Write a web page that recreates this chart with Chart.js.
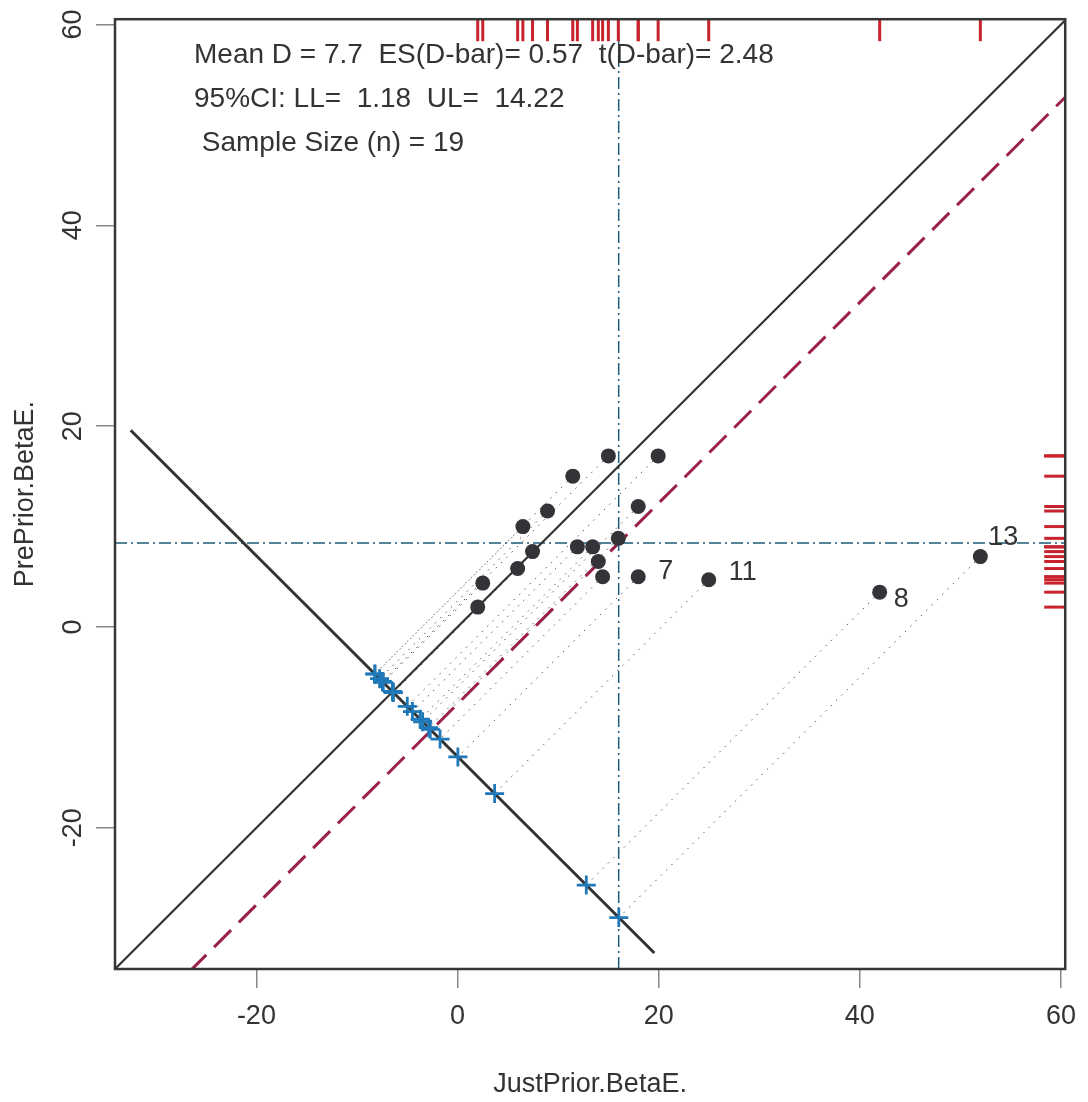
<!DOCTYPE html>
<html>
<head>
<meta charset="utf-8">
<script src="https://cdn.jsdelivr.net/npm/chart.js@4.4.1/dist/chart.umd.min.js"></script>
<style>
  html, body { margin: 0; padding: 0; background: #fff; }
  #wrap { width: 1088px; height: 1102px; }
</style>
</head>
<body>
<div id="wrap"><canvas id="ds-plot"></canvas></div>
<script>
// paired scores, case number = position in the list (1-based)
var justPrior = [15.0, 19.95, 11.46, 8.95, 6.5, 17.97, 17.97, 41.98, 7.46, 11.92, 24.98, 13.44, 51.99, 15.99, 14.0, 5.98, 14.43, 2.51, 2.01];
var prePrior  = [17.04, 17.04, 15.02, 11.55, 10.0, 12.0, 5.0, 3.47, 7.51, 7.98, 4.7, 7.98, 7.01, 8.83, 6.52, 5.82, 5.0, 4.37, 1.98];
var labelledCases = [7, 8, 11, 13];

var xTicks = [-20, 0, 20, 40, 60];
var yTicks = [-20, 0, 20, 40, 60];
var xLim = [-34.06, 60.43];
var yLim = [-34.06, 60.53];

// the anti-diagonal x + y = crossSum, and its x extent
var crossSum = -12.9;
var antiDiagX = [-32.5, 19.57];

var statLines = [
  "Mean D = 7.7  ES(D-bar)= 0.57  t(D-bar)= 2.48",
  "95%CI: LL=  1.18  UL=  14.22",
  " Sample Size (n) = 19"
];

var FONT = "'Liberation Sans', Arial, Helvetica, sans-serif";
var INK = '#333333';

function mean(a) { return a.reduce(function (s, v) { return s + v; }, 0) / a.length; }
var meanX = mean(justPrior), meanY = mean(prePrior), meanD = meanX - meanY;

var pts = justPrior.map(function (x, i) { return { x: x, y: prePrior[i] }; });
var crosses = pts.map(function (p) {
  var t = (p.x + p.y - crossSum) / 2;
  return { x: p.x - t, y: p.y - t };
});

var lineDs = function (data, color, width, dash) {
  return { data: data, showLine: true, borderColor: color, borderWidth: width,
           borderDash: dash || [], pointRadius: 0, fill: false };
};

var datasets = [];
datasets.push({ data: crosses, pointStyle: 'cross', pointRadius: 9.5, borderColor: '#1f78b8',
                borderWidth: 2.8, backgroundColor: '#1f78b8' });
datasets.push({ data: pts, pointStyle: 'circle', pointRadius: 7.5, backgroundColor: '#333338',
                borderColor: '#333338', borderWidth: 0 });
datasets.push(lineDs(antiDiagX.map(function (x) { return { x: x, y: crossSum - x }; }), INK, 3));
datasets.push(lineDs(xLim.map(function (x) { return { x: x, y: x }; }), INK, 2.2));
datasets.push(lineDs(xLim.map(function (x) { return { x: x, y: x - meanD }; }), '#9c2149', 3, [24, 11]));
datasets.push(lineDs(yLim.map(function (y) { return { x: meanX, y: y }; }), '#1d5b78', 1.5, [12, 4, 2, 4]));
datasets.push(lineDs(xLim.map(function (x) { return { x: x, y: meanY }; }), '#1d5b78', 1.5, [12, 4, 2, 4]));
pts.forEach(function (p, i) {
  datasets.push(lineDs([p, crosses[i]], '#555555', 1, [1.5, 6]));
});

// offsets of the case numbers from their points
var labelOffset = { 7: [20, -5], 8: [14, 7], 11: [20, -7], 13: [8, -19] };

var decor = {
  id: 'decor',
  afterDatasetsDraw: function (chart) {
    var ctx = chart.ctx, a = chart.chartArea;
    var xs = chart.scales.x, ys = chart.scales.y;
    ctx.save();
    // rugs
    ctx.strokeStyle = '#c8232c';
    ctx.lineWidth = 3;
    justPrior.forEach(function (v) {
      var px = xs.getPixelForValue(v);
      ctx.beginPath(); ctx.moveTo(px, a.top); ctx.lineTo(px, a.top + 22); ctx.stroke();
    });
    prePrior.forEach(function (v) {
      var py = ys.getPixelForValue(v);
      ctx.beginPath(); ctx.moveTo(a.right - 21, py); ctx.lineTo(a.right, py); ctx.stroke();
    });
    // frame
    ctx.strokeStyle = '#363636';
    ctx.lineWidth = 2.5;
    ctx.strokeRect(a.left, a.top, a.right - a.left, a.bottom - a.top);
    // case numbers
    ctx.fillStyle = INK;
    ctx.font = '27px ' + FONT;
    ctx.textAlign = 'left';
    ctx.textBaseline = 'middle';
    labelledCases.forEach(function (c) {
      var p = pts[c - 1], off = labelOffset[c];
      ctx.fillText(String(c), xs.getPixelForValue(p.x) + off[0], ys.getPixelForValue(p.y) + off[1]);
    });
    // summary text
    ctx.font = '28px ' + FONT;
    ctx.textBaseline = 'alphabetic';
    statLines.forEach(function (s, i) {
      ctx.fillText(s, a.left + 79, a.top + 44 + i * 44);
    });
    ctx.restore();
  }
};

new Chart("ds-plot", {
  type: "scatter",
  data: { datasets: datasets },
  options: {
    responsive: true,
    maintainAspectRatio: false,
    animation: false,
    layout: { padding: { top: 15.7, right: 19, left: 0, bottom: 0 } },
    plugins: {
      legend: { display: false },
      tooltip: { enabled: false }
    },
    scales: {
      x: {
        type: 'linear',
        min: xLim[0],
        max: xLim[1],
        afterBuildTicks: function (s) { s.ticks = xTicks.map(function (v) { return { value: v }; }); },
        afterFit: function (s) { s.height = 133; },
        grid: { drawOnChartArea: false, tickLength: 19, color: '#888888', lineWidth: 1.5 },
        border: { display: false },
        ticks: { autoSkip: false, maxRotation: 0, padding: 12, color: INK, font: { family: FONT, size: 27 } },
        title: { display: true, text: 'JustPrior.BetaE.', color: INK, font: { family: FONT, size: 27 },
                 padding: { top: 0, bottom: 1 } }
      },
      y: {
        type: 'linear',
        min: yLim[0],
        max: yLim[1],
        afterBuildTicks: function (s) { s.ticks = yTicks.map(function (v) { return { value: v }; }); },
        afterFit: function (s) { s.width = 115; },
        grid: { drawOnChartArea: false, tickLength: 19, color: '#888888', lineWidth: 1.5 },
        border: { display: false },
        ticks: { autoSkip: false, minRotation: 90, maxRotation: 90, crossAlign: 'center', padding: 3,
                 color: INK, font: { family: FONT, size: 27 } },
        title: { display: true, text: 'PrePrior.BetaE.', color: INK, font: { family: FONT, size: 27 },
                 padding: { top: 9, bottom: 0 } }
      }
    }
  },
  plugins: [decor]
});
</script>
</body>
</html>
